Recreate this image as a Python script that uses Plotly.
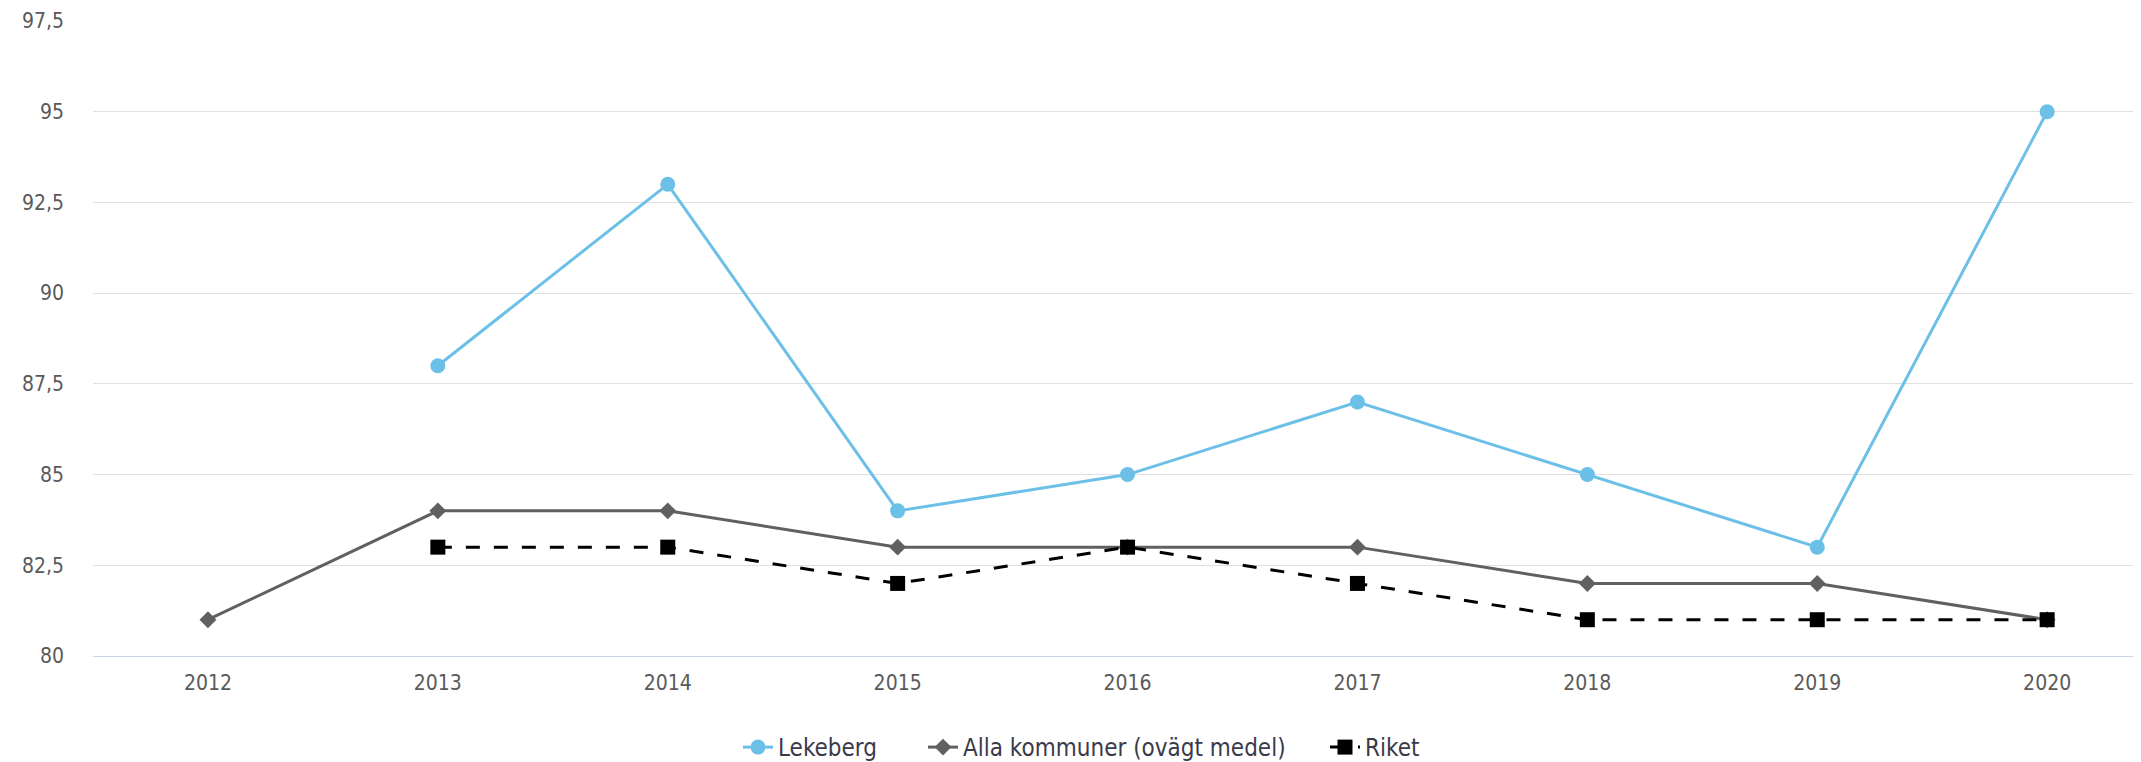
import plotly.graph_objects as go

years = [2012, 2013, 2014, 2015, 2016, 2017, 2018, 2019, 2020]
lekeberg = [None, 88, 93, 84, 85, 87, 85, 83, 95]
alla = [81, 84, 84, 83, 83, 83, 82, 82, 81]
riket = [None, 83, 83, 82, 83, 82, 81, 81, 81]
y_ticks = [80, 82.5, 85, 87.5, 90, 92.5, 95, 97.5]
y_ticktext = ["80", "82,5", "85", "87,5", "90", "92,5", "95", "97,5"]

FONT = "DejaVu Sans Condensed, DejaVu Sans, sans-serif"

fig = go.Figure()
fig.add_trace(go.Scatter(
    x=years, y=lekeberg, name="Lekeberg", mode="lines+markers",
    line=dict(color="#6cc0e8", width=3),
    marker=dict(symbol="circle", size=15, color="#6cc0e8"),
    connectgaps=False, legend="legend",
))
fig.add_trace(go.Scatter(
    x=years, y=alla, name="Alla kommuner (ovägt medel)", mode="lines+markers",
    line=dict(color="#606060", width=3),
    marker=dict(symbol="diamond", size=13, color="#606060"),
    legend="legend2",
))
fig.add_trace(go.Scatter(
    x=years, y=riket, name="Riket", mode="lines+markers",
    line=dict(color="#000000", width=3, dash="14px,14px"),
    marker=dict(symbol="square", size=15, color="#000000"),
    legend="legend3",
))

def leg(xpx):
    return dict(
        orientation="h", xref="container", yref="container",
        x=xpx / 2141, xanchor="left", y=0.0, yanchor="bottom",
        font=dict(family=FONT, size=24, color="#3a3a4a"),
        itemwidth=30, bgcolor="rgba(0,0,0,0)",
    )

fig.update_layout(
    width=2141, height=762,
    margin=dict(l=85, r=0, t=13, b=114),
    paper_bgcolor="white", plot_bgcolor="white",
    font=dict(family=FONT, size=20, color="#5a5a5a"),
    showlegend=True,
    legend=leg(730),
    legend2=leg(915),
    legend3=leg(1317),
    xaxis=dict(
        range=[2011.5, 2020.443],
        tickvals=years, ticktext=[str(y) for y in years],
        showgrid=False, zeroline=False,
        showline=True, linecolor="#ccd6eb", linewidth=1,
        ticks="", ticklabelstandoff=8,
        tickfont=dict(family=FONT, size=21, color="#5a5a5a"),
    ),
    yaxis=dict(
        range=[80, 97.5],
        tickvals=y_ticks, ticktext=y_ticktext,
        showgrid=True, gridcolor="#e0e0e0", gridwidth=1,
        zeroline=False, showline=False, ticks="",
        ticklabelstandoff=28,
        tickfont=dict(family=FONT, size=21, color="#5a5a5a"),
    ),
)

fig.write_html("out.html")
